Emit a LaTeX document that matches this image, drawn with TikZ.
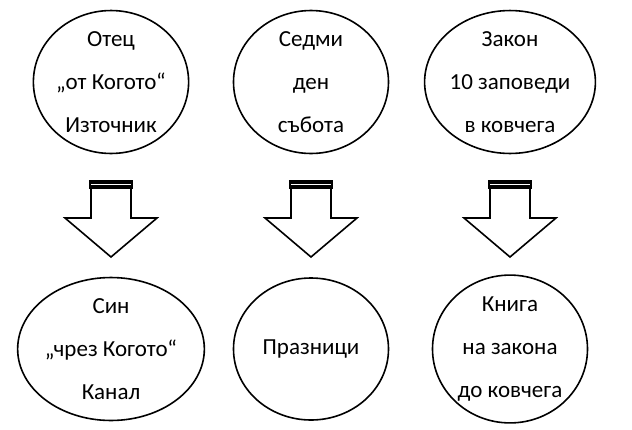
\documentclass[tikz,border=0pt]{standalone}
\usepackage{fontspec}
\setmainfont{Carlito}
\tikzset{
	circ/.style = {draw, line width = 1.6pt, ellipse, inner sep = 0pt, minimum width = 155pt, minimum height = 142pt, align = center, font = \fontsize{23}{43}\selectfont},
}
\usetikzlibrary{shapes.geometric}
% hollow down arrow with a double bar on top
\newcommand{\downarr}[1]{
	\fill [black] ($(#1)+(-22,98)$) rectangle ($(#1)+(22,107)$);
	\draw [white, line width = 1.4pt] ($(#1)+(-20,102.5)$) -- ($(#1)+(20,102.5)$);
	\draw [line width = 1.6pt, line join = miter] ($(#1)+(-20,107)$) -- ($(#1)+(-20,136)$) -- ($(#1)+(-46,136)$) -- ($(#1)+(0,175)$) -- ($(#1)+(46,136)$) -- ($(#1)+(20,136)$) -- ($(#1)+(20,107)$);
}
\usetikzlibrary{calc}
\begin{document}
\begin{tikzpicture}[x = 1pt, y = -1pt]
		\useasboundingbox (0,0) rectangle (632,429);
		\node [circ](father) at (111,82) {Отец\\„от Когото“\\Източник};
		\node [circ](seventh) at (311,82) {Седми\\ден\\събота};
		\node [circ](law) at (510,82) {Закон\\10 заповеди\\в ковчега};
		\node [circ](son) at (111,349) {Син\\„чрез Когото“\\Канал};
		\node [circ](feasts) at (311,349) {Празници};
		\node [circ](book) at (510,349) {Книга\\на закона\\до ковчега};
		\downarr{father.center}
		\downarr{seventh.center}
		\downarr{law.center}
\end{tikzpicture}
\end{document}
